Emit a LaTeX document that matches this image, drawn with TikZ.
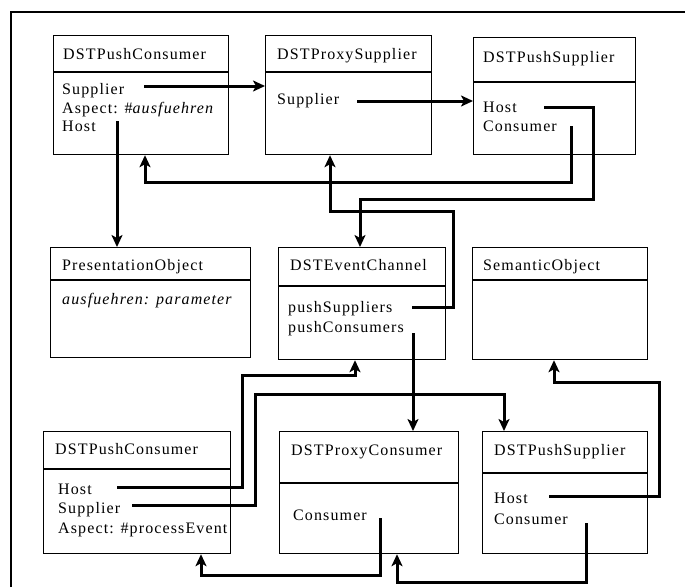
\documentclass[tikz,border=0pt]{standalone}
\usepackage{fontspec}
\setmainfont{Liberation Serif}[LetterSpace=7]
\usetikzlibrary{arrows.meta}

\begin{document}
\begin{tikzpicture}[x=1pt,y=-1pt,
  box/.style={draw, line width=1.2pt, anchor=north west, inner sep=0pt},
  divider/.style={line width=1.1pt},
  lbl/.style={anchor=base west, inner sep=0pt, font=\fontsize{16}{19}\selectfont},
  conn/.style={line width=3pt, -{Stealth[length=12pt,width=11pt,inset=3pt]}},
  frameline/.style={line width=1.2pt}
]
\useasboundingbox (0,0) rectangle (685,587);
\draw[frameline] (11,587) -- (11,12) -- (685,12);

% ---------- classes, upper row ----------
\node[box, minimum width=175pt, minimum height=119pt] (pcA) at (53,35) {};
\draw[divider] (pcA.west |- 0,72) -- (pcA.east |- 0,72);
\node[lbl] (pcAt) at (63,59) {DSTPushConsumer};
\node[lbl] (pcAa1) at (62,94) {Supplier};
\node[lbl] (pcAa2) at (62,113) {Aspect: \#\textit{ausfuehren}};
\node[lbl] (pcAa3) at (62,131) {Host};

\node[box, minimum width=166pt, minimum height=119pt] (psA) at (265,35) {};
\draw[divider] (psA.west |- 0,72) -- (psA.east |- 0,72);
\node[lbl] (psAt) at (277,59) {DSTProxySupplier};
\node[lbl] (psAa1) at (277,104) {Supplier};

\node[box, minimum width=162pt, minimum height=117pt] (pushA) at (473,37) {};
\draw[divider] (pushA.west |- 0,82) -- (pushA.east |- 0,82);
\node[lbl] (pushAt) at (483,62) {DSTPushSupplier};
\node[lbl] (pushAa1) at (483,112) {Host};
\node[lbl] (pushAa2) at (483,131) {Consumer};

% ---------- classes, middle row ----------
\node[box, minimum width=200pt, minimum height=110pt] (pres) at (50,247) {};
\draw[divider] (pres.west |- 0,280) -- (pres.east |- 0,280);
\node[lbl] (prest) at (62,270) {PresentationObject};
\node[lbl] (presa1) at (62,304) {\textit{ausfuehren: parameter}};

\node[box, minimum width=167pt, minimum height=112pt] (chan) at (278,247) {};
\draw[divider] (chan.west |- 0,286) -- (chan.east |- 0,286);
\node[lbl] (chant) at (290,270) {DSTEventChannel};
\node[lbl] (chana1) at (288,312) {pushSuppliers};
\node[lbl] (chana2) at (288,332) {pushConsumers};

\node[box, minimum width=175pt, minimum height=112pt] (sem) at (472,247) {};
\draw[divider] (sem.west |- 0,280) -- (sem.east |- 0,280);
\node[lbl] (semt) at (483,270) {SemanticObject};

% ---------- classes, lower row ----------
\node[box, minimum width=187pt, minimum height=122pt] (pcB) at (43,431) {};
\draw[divider] (pcB.west |- 0,469) -- (pcB.east |- 0,469);
\node[lbl] (pcBt) at (55,454) {DSTPushConsumer};
\node[lbl] (pcBa1) at (58,494) {Host};
\node[lbl] (pcBa2) at (58,513) {Supplier};
\node[lbl] (pcBa3) at (58,533) {Aspect: \#processEvent};

\node[box, minimum width=179pt, minimum height=122pt] (pxc) at (279,431) {};
\draw[divider] (pxc.west |- 0,483) -- (pxc.east |- 0,483);
\node[lbl] (pxct) at (291,455) {DSTProxyConsumer};
\node[lbl] (pxca1) at (293,520) {Consumer};

\node[box, minimum width=165pt, minimum height=122pt] (pushB) at (482,431) {};
\draw[divider] (pushB.west |- 0,473) -- (pushB.east |- 0,473);
\node[lbl] (pushBt) at (494,455) {DSTPushSupplier};
\node[lbl] (pushBa1) at (494,503) {Host};
\node[lbl] (pushBa2) at (494,524) {Consumer};

% ---------- connector start points beside the attributes ----------
\coordinate (pcAsup)   at (144,86);
\coordinate (pcAasp)   at (117,121);
\coordinate (psAsup)   at (357,101);
\coordinate (pushAhost) at (544,107);
\coordinate (pushAcon) at (571,126);
\coordinate (chanps)   at (412,307);
\coordinate (chanpc)   at (413,333);
\coordinate (pcBhost)  at (117,487);
\coordinate (pcBsup)   at (132,505);
\coordinate (pxcCon)   at (380,518);
\coordinate (pushBhost) at (549,496);
\coordinate (pushBcon) at (586,523);

% ---------- connectors ----------
\draw[conn] (pcAsup) -- (psA.west |- pcAsup);
\draw[conn] (psAsup) -- (pushA.west |- psAsup);
\draw[conn] (pcAasp) -- (pres.north -| pcAasp);
\draw[conn] (pushAcon) |- (145,182) -- (pcA.south -| 145,0);
\draw[conn] (pushAhost) -| (593,199) -| (chan.north -| 360,0);
\draw[conn] (chanps) -| (453,211) -| (psA.south -| 330,0);
\draw[conn] (chanpc) -- (pxc.north -| chanpc);
\draw[conn] (pcBhost) -| (242,375) -| (chan.south -| 355,0);
\draw[conn] (pcBsup) -| (255,394) -| (pushB.north -| 504,0);
\draw[conn] (pxcCon) |- (201,575) -- (pcB.south -| 201,0);
\draw[conn] (pushBcon) |- (397,582) -- (pxc.south -| 397,0);
\draw[conn] (pushBhost) -| (659,382) -| (sem.south -| 554,0);
\end{tikzpicture}
\end{document}
